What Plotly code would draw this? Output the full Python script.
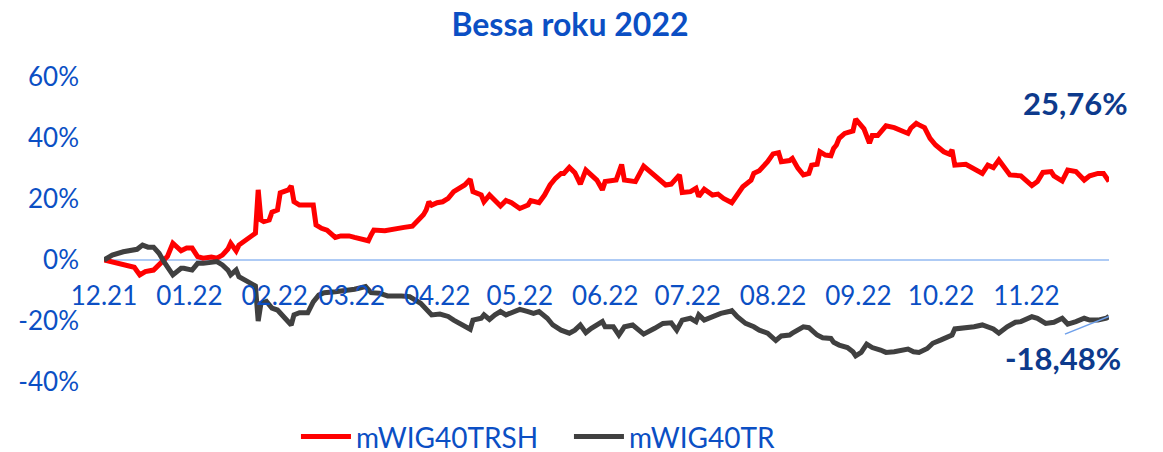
import pandas as pd
import plotly.graph_objects as go

start = pd.Timestamp("2021-12-01")

# mWIG40TRSH: days since 2021-12-01 and cumulative return (%)
red_days = [0, 11, 13, 15, 18, 20, 23, 25, 27, 28, 30, 32, 34, 36, 39, 41, 43, 45, 46, 48,
            49, 52, 54, 55, 56, 57, 58, 60, 61, 63, 64, 66, 67, 68, 69, 71, 74, 76, 77, 79,
            81, 84, 86, 89, 91, 93, 96, 97, 98, 102, 106, 109, 112, 114, 116, 117, 118, 119, 121, 123,
            125, 127, 129, 131, 133, 134, 137, 138, 140, 142, 144, 146, 148, 151, 154, 155, 158, 160, 162, 164,
            166, 167, 169, 171, 173, 175, 177, 179, 181, 182, 186, 188, 189, 193, 196, 199, 202, 204, 206, 208,
            209, 210, 213, 215, 216, 218, 221, 223, 225, 228, 230, 232, 235, 236, 238, 241, 243, 245, 246, 249,
            250, 252, 254, 256, 257, 259, 260, 262, 264, 265, 266, 267, 269, 272, 273, 275, 276, 278, 279, 281,
            282, 284, 287, 289, 292, 293, 295, 296, 298, 300, 302, 305, 307, 308, 309, 313, 316, 319, 321, 323,
            325, 327, 329, 333, 335, 337, 339, 341, 344, 345, 348, 350, 353, 356, 358, 361, 363, 365]
red_vals = [0, -2.4, -4.9, -3.8, -3.3, -1.6, 1.1, 5.5, 3.6, 3.0, 3.9, 3.9, 1.1, 0.6, 1.0, 0.6, 1.6, 3.6, 5.5, 3.0,
            4.9, 6.9, 8.5, 8.8, 23.0, 13.1, 12.6, 13.1, 15.7, 16.4, 22.0, 22.4, 23.0, 24.3, 19.1, 18.0, 18.0, 18.0, 11.5, 10.4,
            9.8, 7.4, 7.9, 7.9, 7.4, 7.1, 6.3, 8.2, 9.8, 9.6, 10.4, 10.7, 11.1, 12.9, 14.8, 16.4, 19.1, 18.0, 18.8, 19.1,
            20.2, 22.4, 23.5, 24.6, 26.5, 22.4, 21.3, 19.1, 21.3, 19.7, 17.7, 19.5, 18.8, 16.9, 18.0, 19.5, 18.8, 21.3, 24.6, 26.8,
            28.4, 28.4, 30.4, 28.6, 24.9, 29.5, 27.9, 26.2, 23.0, 25.7, 26.2, 31.3, 26.2, 25.7, 30.8, 28.4, 25.7, 24.6, 24.9, 26.8,
            27.9, 22.1, 22.4, 23.5, 20.8, 23.2, 21.3, 21.6, 20.2, 18.8, 21.3, 24.0, 26.2, 28.4, 29.3, 32.2, 34.8, 35.2, 32.2, 32.6,
            33.3, 30.1, 27.9, 28.4, 31.1, 31.4, 35.5, 34.4, 34.2, 36.6, 37.7, 39.9, 41.5, 42.3, 46.2, 44.0, 43.0, 38.3, 40.8, 40.8,
            42.1, 44.0, 43.4, 42.6, 41.5, 43.2, 44.8, 44.3, 43.4, 39.9, 37.7, 35.5, 34.7, 36.1, 31.1, 31.4, 30.1, 28.4, 31.1, 30.3,
            32.8, 30.1, 27.9, 27.6, 25.9, 24.4, 25.7, 28.7, 29.0, 27.6, 25.9, 29.5, 29.0, 26.2, 27.6, 28.4, 28.4, 25.76]

# mWIG40TR
gray_days = [0, 3, 7, 11, 12, 14, 16, 18, 20, 22, 25, 28, 29, 32, 34, 36, 39, 41, 43, 45,
             46, 48, 49, 52, 54, 55, 56, 57, 59, 61, 63, 66, 68, 69, 71, 74, 76, 78, 80, 84,
             88, 91, 95, 97, 100, 103, 108, 111, 115, 117, 119, 122, 125, 127, 130, 133, 134, 137, 138, 140,
             142, 144, 146, 149, 151, 154, 156, 158, 161, 163, 166, 169, 171, 173, 175, 177, 179, 181, 182, 185,
             187, 189, 192, 196, 200, 203, 206, 208, 210, 213, 215, 216, 218, 221, 224, 227, 228, 230, 233, 236,
             238, 241, 243, 244, 246, 249, 250, 252, 254, 256, 258, 259, 261, 264, 265, 267, 270, 272, 273, 275,
             277, 279, 282, 284, 287, 292, 294, 296, 299, 301, 304, 306, 308, 309, 313, 316, 319, 323, 325, 328,
             331, 333, 337, 339, 342, 345, 348, 350, 353, 356, 358, 361, 364, 365]
gray_vals = [0, 1.6, 2.7, 3.3, 3.5, 4.9, 4.2, 4.2, 2.2, -0.9, -4.9, -2.7, -2.7, -3.3, -1.1, -1.1, -0.5, -0.5, -1.6, -3.3,
             -4.9, -3.3, -5.5, -7.1, -8.2, -8.5, -20.0, -14.2, -13.6, -15.8, -16.4, -19.7, -21.3, -18.0, -17.3, -17.3, -13.7, -11.5, -10.7, -10.4,
             -10.1, -9.6, -8.7, -10.7, -10.9, -11.8, -11.8, -12.0, -14.2, -16.4, -18.0, -17.7, -18.5, -19.7, -21.0, -22.7, -19.7, -19.1, -18.0, -19.5,
             -18.0, -16.9, -18.0, -16.9, -16.2, -16.9, -17.5, -16.9, -19.1, -21.3, -23.0, -24.0, -23.0, -21.3, -23.8, -22.4, -21.3, -20.2, -21.9, -21.9,
             -24.6, -21.9, -21.3, -24.3, -22.4, -20.8, -20.6, -23.0, -19.7, -19.1, -20.2, -18.0, -19.7, -18.6, -17.5, -16.9, -16.6, -18.6, -20.8, -21.9,
             -23.0, -24.0, -25.7, -26.4, -24.9, -24.6, -24.0, -23.0, -21.9, -22.2, -24.0, -24.6, -25.5, -25.7, -27.0, -27.9, -28.7, -30.1, -31.4, -30.3,
             -27.6, -28.7, -29.5, -30.3, -30.1, -29.2, -30.1, -30.3, -29.0, -27.3, -26.2, -25.2, -24.6, -22.6, -22.4, -21.9, -21.3, -22.6, -24.0, -21.9,
             -20.4, -20.2, -18.6, -19.1, -20.8, -20.4, -19.1, -21.0, -20.2, -19.1, -19.7, -19.7, -19.1, -18.48]

series_names = ["mWIG40TRSH", "mWIG40TR"]
title_text = "Bessa roku 2022"
end_labels = ["25,76%", "-18,48%"]
x_tickvals = ["2021-12-01", "2022-01-01", "2022-02-01", "2022-03-01", "2022-04-01", "2022-05-01",
              "2022-06-01", "2022-07-01", "2022-08-01", "2022-09-01", "2022-10-01", "2022-11-01"]
x_ticktext = ["12.21", "01.22", "02.22", "03.22", "04.22", "05.22",
              "06.22", "07.22", "08.22", "09.22", "10.22", "11.22"]
y_ticks = [-40, -20, 0, 20, 40, 60]
y_ticktext = ["-40%", "-20%", "0%", "20%", "40%", "60%"]

red_dates = start + pd.to_timedelta(red_days, unit="D")
gray_dates = start + pd.to_timedelta(gray_days, unit="D")

BLUE = "#0B4FC4"
NAVY = "#0D3A8C"
FONT = "Lato"

# the page body adds an 8 px margin, so the figure is 8 px smaller on each side
W, H = 1155, 444

fig = go.Figure()
fig.add_trace(go.Scatter(x=red_dates, y=red_vals, mode="lines", name=series_names[0],
                         line=dict(color="#FF0000", width=5)))
fig.add_trace(go.Scatter(x=gray_dates, y=gray_vals, mode="lines", name=series_names[1],
                         line=dict(color="#404040", width=5)))

# leader line from the end label to the last point of mWIG40TR
fig.add_shape(type="line", xref="x", yref="y",
              x0=gray_dates[-1] - pd.Timedelta(days=16), y0=-24.3,
              x1=gray_dates[-1], y1=gray_vals[-1],
              line=dict(color="#6FA0EA", width=1.5))

fig.add_annotation(text="<b>%s</b>" % end_labels[0], xref="paper", yref="paper",
                   x=0.967, y=0.915, xanchor="center", yanchor="middle", showarrow=False,
                   font=dict(family=FONT, size=31, color=NAVY))
fig.add_annotation(text="<b>%s</b>" % end_labels[1], xref="paper", yref="paper",
                   x=0.954, y=0.079, xanchor="center", yanchor="middle", showarrow=False,
                   font=dict(family=FONT, size=31, color=NAVY))

fig.update_layout(
    width=W, height=H,
    margin=dict(l=96, r=54, t=69, b=70, autoexpand=False),
    paper_bgcolor="white", plot_bgcolor="white",
    font=dict(family=FONT, size=26, color=BLUE),
    title=dict(text="<b>%s</b>" % title_text, x=562 / W, xref="container",
               y=1 - 17 / H, yref="container", xanchor="center", yanchor="middle",
               font=dict(family=FONT, size=32, color=BLUE)),
    showlegend=True,
    legend=dict(orientation="h", x=0.191, y=-0.180, xanchor="left", yanchor="middle",
                itemwidth=50, entrywidth=208, entrywidthmode="pixels",
                font=dict(family=FONT, size=28, color=BLUE), bgcolor="rgba(0,0,0,0)"),
    xaxis=dict(type="date", range=[start, start + pd.Timedelta(days=365)],
               tickvals=x_tickvals, ticktext=x_ticktext, automargin=False,
               showgrid=False, showline=False, zeroline=False, ticks="",
               anchor="free", position=0.4, ticklabelstandoff=18,
               tickfont=dict(family=FONT, size=26, color=BLUE)),
    yaxis=dict(range=[-40, 60], tickvals=y_ticks, ticktext=y_ticktext, automargin=False,
               showgrid=False, showline=False, zeroline=True,
               zerolinecolor="#AECBF5", zerolinewidth=1.5, ticks="",
               ticklabelstandoff=24,
               tickfont=dict(family=FONT, size=26, color=BLUE)),
)

fig.write_html("out.html")
